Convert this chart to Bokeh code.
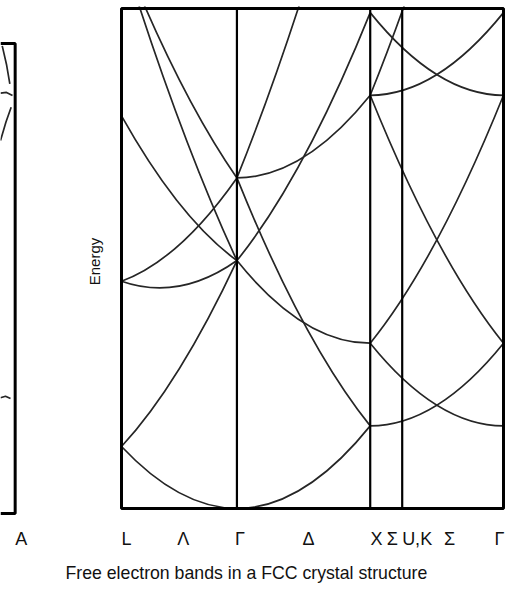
from bokeh.plotting import figure
from bokeh.layouts import row
from bokeh.models import Range1d, FixedTicker, Title
from bokeh.embed import file_html
from bokeh.resources import INLINE

# ---- path along the Brillouin zone (units of 2*pi/a) ----
K_L, K_G, K_X, K_UK, K_END = 0.0, 0.866, 1.866, 2.106, 2.866
E_TOP = 6.05

# vertical guide lines at symmetry points
guide_pos = [K_G, K_X, K_UK]

# axis labels and where they sit along the path
tick_labels = ["L", "Λ", "Γ", "Δ", "X", "Σ", "U,K", "Σ", "Γ"]
tick_pos = [0.038, 0.463, 0.889, 1.403, 1.913, 2.031, 2.218, 2.461, 2.836]

# ---- free-electron band energies: value at start, midpoint and end of each leg ----
# L -> Gamma
lg_start = [0.75, 0.75, 6.75, 2.75, 4.75, 2.75, 6.75]
lg_mid = [0.19, 1.69, 4.69, 2.69, 3.69, 3.19, 5.19]
lg_end = [0.0, 3.0, 3.0, 3.0, 3.0, 4.0, 4.0]

# Gamma -> X
gx_start = [0.0, 4.0, 4.0, 4.0, 3.0, 3.0]
gx_mid = [0.25, 2.25, 6.25, 4.25, 2.25, 4.25]
gx_end = [1.0, 1.0, 9.0, 5.0, 2.0, 6.0]

# X -> U,K -> end of path
xk_start = [1.0, 2.0, 2.0, 5.0, 5.0, 5.0, 6.0]
xk_mid = [1.25, 1.25, 3.25, 3.25, 7.25, 5.25, 5.25]
xk_end = [2.0, 1.0, 5.0, 2.0, 10.0, 6.0, 5.0]

legs = [
    ((K_L, K_G), lg_start, lg_mid, lg_end),
    ((K_G, K_X), gx_start, gx_mid, gx_end),
    ((K_X, K_END), xk_start, xk_mid, xk_end),
]

FONT = "Liberation Sans"
INK = "#111111"

# screen margins around the boxed panels (pixels)
PAD_X = 3 / 133.3      # small gap so the box border is not cut at the frame edge
PAD_BOTTOM = 8 / 82.645
PAD_TOP = 2 / 82.645

# ---- main band diagram ----
p = figure(width=460, height=592, title=None,
           x_range=Range1d(K_L - PAD_X, K_END + PAD_X),
           y_range=Range1d(-PAD_BOTTOM, E_TOP + PAD_TOP),
           output_backend="svg", toolbar_location=None,
           min_border_left=56, min_border_right=16,
           min_border_top=6, min_border_bottom=76)
p.xgrid.visible = False
p.ygrid.visible = False
p.outline_line_color = None
p.background_fill_color = "white"
p.border_fill_color = "white"

for (xa, xb), starts, mids, ends in legs:
    n = len(starts)
    xm = 0.5 * (xa + xb)
    # a parabola through start/mid/end is a quadratic Bezier with this control point
    ctrl_y = [2 * m - 0.5 * (s + e) for s, m, e in zip(starts, mids, ends)]
    p.quadratic(x0=[xa] * n, y0=starts, x1=[xb] * n, y1=ends,
                cx=[xm] * n, cy=ctrl_y, line_color="#262626", line_width=1.7)

p.segment(x0=guide_pos, y0=[0] * len(guide_pos), x1=guide_pos, y1=[E_TOP] * len(guide_pos),
          line_color="black", line_width=2.2)

# panel border
p.quad(left=[K_L], right=[K_END], bottom=[0], top=[E_TOP],
       fill_color=None, line_color="black", line_width=3)

ax = p.xaxis[0]
ax.ticker = FixedTicker(ticks=tick_pos, minor_ticks=[])
ax.major_label_overrides = {pos: lab for pos, lab in zip(tick_pos, tick_labels)}
ax.major_tick_line_color = None
ax.minor_tick_line_color = None
ax.axis_line_color = None
ax.major_label_standoff = 6
ax.major_label_text_font = FONT
ax.major_label_text_font_size = "18px"
ax.major_label_text_color = INK

ay = p.yaxis[0]
ay.ticker = FixedTicker(ticks=[], minor_ticks=[])
ay.major_tick_line_color = None
ay.minor_tick_line_color = None
ay.axis_line_color = None
ay.axis_label = "Energy"
ay.axis_label_standoff = 16
ay.axis_label_text_font = FONT
ay.axis_label_text_font_size = "15px"
ay.axis_label_text_font_style = "normal"
ay.axis_label_text_color = INK

p.add_layout(Title(text="Free electron bands in a FCC crystal structure",
                   align="left", offset=-53, standoff=19, text_font=FONT,
                   text_font_size="17.7px", text_font_style="normal",
                   text_color=INK), "below")

# ---- edge of the neighbouring band diagram ----
side_box_end = 0.11
side_label_pos = [0.155]
side_label_text = ["A"]
frag_xs = [[0.013, 0.045, 0.070], [0.0, 0.045, 0.09], [0.080, 0.041, 0.0], [0.0, 0.0375, 0.075]]
frag_ys = [[6.02, 5.78, 5.53], [5.41, 5.42, 5.38], [5.23, 5.04, 4.80], [1.49, 1.51, 1.48]]

s = figure(width=62, height=592, title=None,
           x_range=Range1d(0, 0.195), y_range=Range1d(-3 / 77.69, E_TOP + 37 / 77.69),
           y_axis_location=None, output_backend="svg", toolbar_location=None,
           min_border_left=0, min_border_right=36,
           min_border_top=6, min_border_bottom=76)
s.xgrid.visible = False
s.ygrid.visible = False
s.outline_line_color = None
s.background_fill_color = "white"
s.border_fill_color = "white"

s.multi_line(xs=frag_xs, ys=frag_ys, line_color="#262626", line_width=1.7)
s.multi_line(xs=[[0, side_box_end, side_box_end, 0]], ys=[[E_TOP, E_TOP, 0, 0]],
             line_color="black", line_width=3)

sx = s.xaxis[0]
sx.ticker = FixedTicker(ticks=side_label_pos, minor_ticks=[])
sx.major_label_overrides = {pos: lab for pos, lab in zip(side_label_pos, side_label_text)}
sx.major_tick_line_color = None
sx.minor_tick_line_color = None
sx.axis_line_color = None
sx.major_label_standoff = 6
sx.major_label_text_font = FONT
sx.major_label_text_font_size = "18px"
sx.major_label_text_color = INK

layout = row(s, p, spacing=0)

with open("out.html", "w") as f:
    f.write(file_html(layout, INLINE))
